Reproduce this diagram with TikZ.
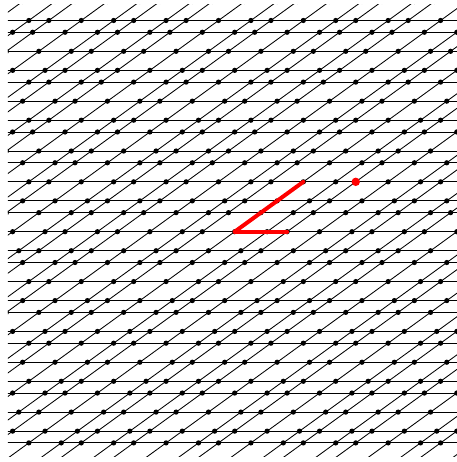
\documentclass[tikz,border=0pt]{standalone}
\usepackage{tikz}

% golden beta-integers, both signs
\newcommand{\zphi}{0,1,1.618034,2.618034,3.618034,4.236068,5.236068,5.854102,6.854102,7.854102,8.472136,9.472136,10.472136,11.090170,12.090170,12.708204,13.708204,14.708204,15.326238,16.326238,16.944272,-1,-1.618034,-2.618034,-3.618034,-4.236068,-5.236068,-5.854102,-6.854102,-7.854102,-8.472136,-9.472136,-10.472136,-11.090170,-12.090170,-12.708204,-13.708204,-14.708204,-15.326238,-16.326238,-16.944272}
\newcommand{\zphirows}{0,1,1.618034,2.618034,3.618034,4.236068,5.236068,5.854102,6.854102,7.854102,8.472136,9.472136,10.472136,11.090170,12.090170,-1,-1.618034,-2.618034,-3.618034,-4.236068,-5.236068,-5.854102,-6.854102,-7.854102,-8.472136,-9.472136,-10.472136,-11.090170,-12.090170}

\begin{document}
\begin{tikzpicture}[line width=0.75pt]
  \useasboundingbox (-7.244,-7.108) rectangle (6.830,7.151);
  \begin{scope}
    \clip (-7,-6.95) rectangle (7,7);
    \foreach \b in \zphirows
      \draw (-8,{\b*sin(36)}) -- (8,{\b*sin(36)});
    \foreach \a in \zphi
      \draw (\a,0) ++(216:13) -- ++(36:26);
    \foreach \a in \zphi {
      \foreach \b in \zphirows
        \fill ({\a+\b*cos(36)},{\b*sin(36)}) circle (2.3pt);
    }
  \end{scope}
  \coordinate (O) at (0,0);
  \coordinate (P) at (1.618034,0);
  \coordinate (Q) at (36:2.618034);
  \coordinate (R) at ({1.618034+2.618034*cos(36)},{2.618034*sin(36)});
  \draw[red, line width=3.5pt, line cap=round] (O) -- (P);
  \draw[red, line width=3.5pt, line cap=round] (O) -- (Q);
  \fill[red] (R) circle (3.7pt);
\end{tikzpicture}
\end{document}
